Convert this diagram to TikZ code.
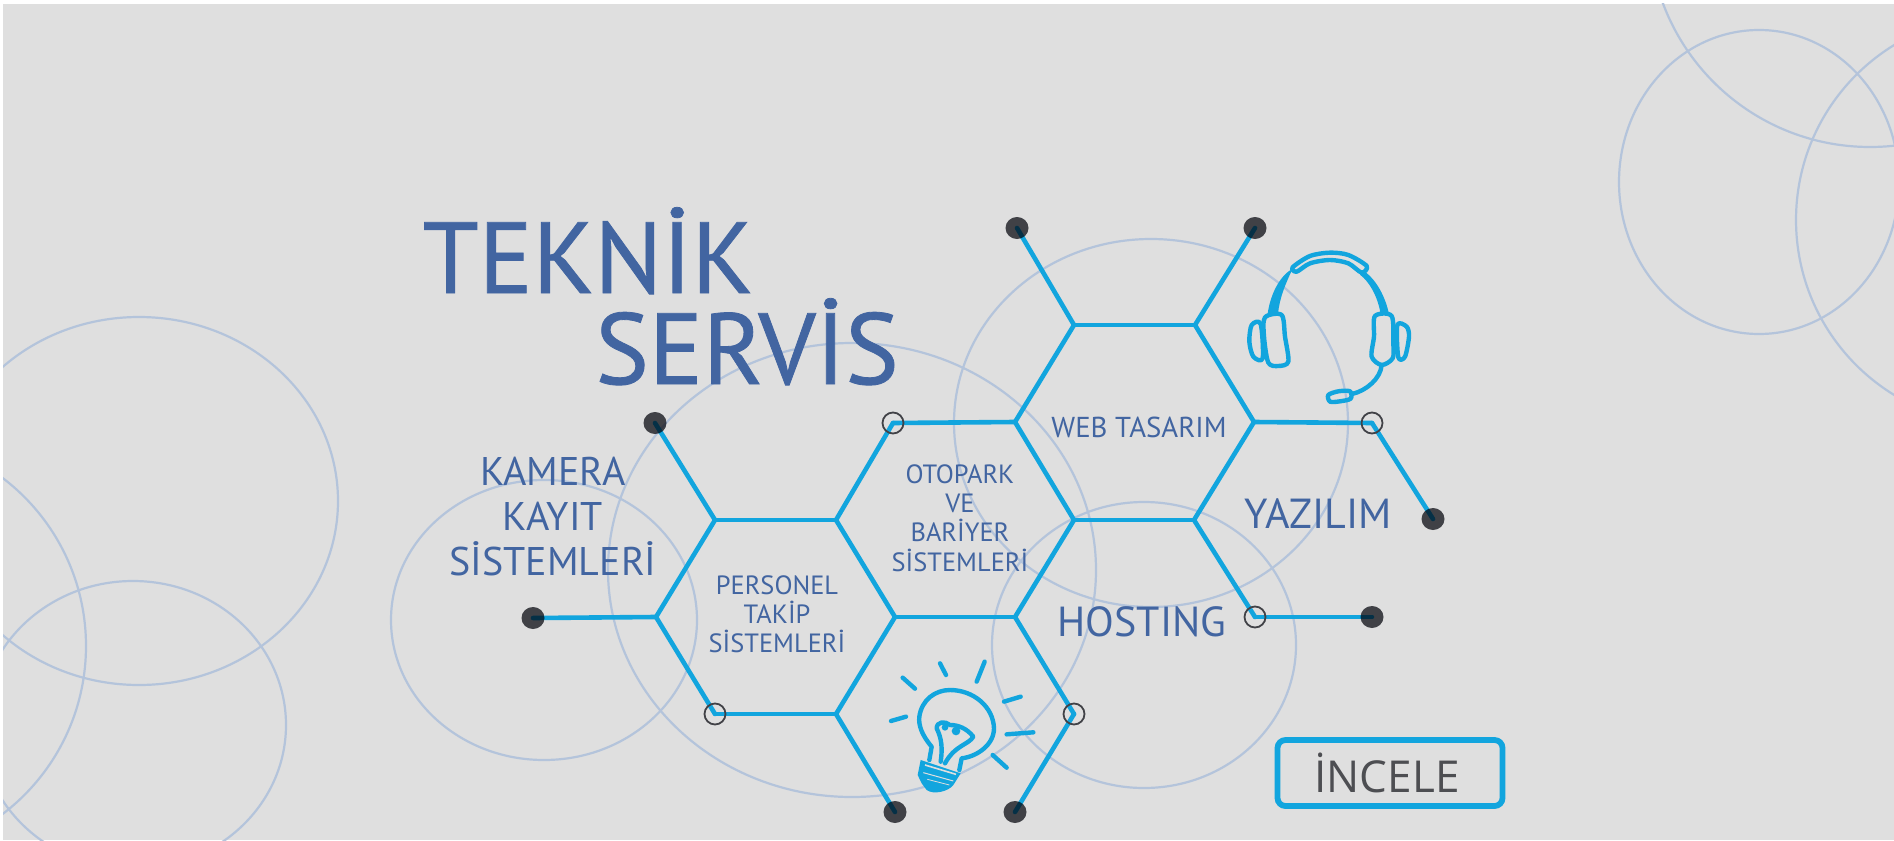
\documentclass[tikz,border=0pt]{standalone}
\usepackage{fontspec}
\usetikzlibrary{shapes.geometric}
\setmainfont{PT Sans}
\newfontfamily\titlefont[FakeBold=0.8]{PT Sans}
\newfontfamily\btnfont{Open Sans}
\definecolor{pagegrey}{HTML}{DFDFDF}
\definecolor{ringblue}{HTML}{B4C4DB}
\definecolor{linkblue}{HTML}{12A5DE}
\definecolor{titleblue}{HTML}{4265A1}
\definecolor{dotgrey}{HTML}{4A4B51}
\definecolor{opengrey}{HTML}{414247}
\definecolor{btngrey}{HTML}{4D4E52}
\pgfdeclarelayer{front}
\pgfsetlayers{main,front}

\begin{document}
\begin{tikzpicture}[x=0.5pt,y=-0.5pt,
    bubble/.style={draw=ringblue,line width=1.1pt},
    link/.style={draw=linkblue,line width=2.3pt,line cap=round},
    sketch/.style={draw=linkblue,line width=2.2pt,line cap=round,line join=round},
    solid dot/.style={ellipse,fill=dotgrey,blend mode=multiply,inner sep=0pt,minimum width=11.5pt,minimum height=11pt},
    open dot/.style={circle,draw=opengrey,line width=0.9pt,inner sep=0pt,minimum size=10.5pt},
    title/.style={inner sep=0pt,text=titleblue,anchor=base,font=\titlefont\fontsize{50.5}{50.5}\selectfont},
    big label/.style={inner sep=0pt,text=titleblue,align=center,font=\fontsize{21}{22.5}\selectfont},
    small label/.style={inner sep=0pt,text=titleblue,align=center,font=\fontsize{13.2}{14.6}\selectfont},
    button/.style={draw=linkblue,line width=2.9pt,rounded corners=4pt,minimum width=112.5pt,minimum height=33pt,inner sep=0pt,text=btngrey,font=\btnfont\fontsize{22}{22}\selectfont}]

  \useasboundingbox (0,0) rectangle (1894,840);
  \fill[pagegrey] (3,4) rectangle (1894,840);

  % background rings
  \draw[bubble] (852,570) ellipse [x radius=244,y radius=227];
  \draw[bubble] (1151,423) ellipse [x radius=197,y radius=184];
  \draw[bubble] (1144,645) ellipse [x radius=152,y radius=143];
  \draw[bubble] (544,620) ellipse [x radius=153,y radius=140];
  \begin{scope}
    \clip (3,4) rectangle (1894,840);
    \draw[bubble] (139,501) ellipse [x radius=199,y radius=184];
    \draw[bubble] (-125,646) circle [radius=211];
    \draw[bubble] (133,725) ellipse [x radius=153,y radius=144];
    \draw[bubble] (1759,182) ellipse [x radius=140,y radius=152];
    \draw[bubble] (2001,220) circle [radius=205];
    \draw[bubble] (1870,-74) circle [radius=221];
  \end{scope}

  % honeycomb corners
  \coordinate (a) at (715,520);
  \coordinate (b) at (836,520);
  \coordinate (c) at (656,617);
  \coordinate (d) at (895,617);
  \coordinate (e) at (836,714);
  \coordinate (f) at (1015,422);
  \coordinate (g) at (1074,325);
  \coordinate (h) at (1195,325);
  \coordinate (i) at (1254,422);
  \coordinate (j) at (1074,520);
  \coordinate (k) at (1194,520);
  \coordinate (l) at (1015,617);

  \begin{pgfonlayer}{front}
    \node[solid dot] (dotA) at (655,423) {};
    \node[solid dot] (dotB) at (533,618) {};
    \node[solid dot] (dotC) at (895,812) {};
    \node[solid dot] (dotD) at (1015,812) {};
    \node[solid dot] (dotE) at (1017,228) {};
    \node[solid dot] (dotF) at (1255,228) {};
    \node[solid dot] (dotG) at (1433,519) {};
    \node[solid dot] (dotH) at (1372,617) {};
    \node[open dot] (openA) at (893,423) {};
    \node[open dot] (openB) at (715,714) {};
    \node[open dot] (openC) at (1074,714) {};
    \node[open dot] (openD) at (1255,617) {};
    \node[open dot] (openE) at (1372,423) {};
  \end{pgfonlayer}

  \foreach \from/\to in {dotA/a,a/b,b/openA,openA/f,f/g,g/dotE,g/h,h/dotF,h/i,i/openE,
      openE/dotG,i/k,k/j,j/f,j/l,k/openD,openD/dotH,l/d,l/openC,openC/dotD,d/b,d/e,
      e/dotC,e/openB,openB/c,c/a,c/dotB}
    \draw[link] (\from.center) -- (\to.center);

  % texts
  \node[title] (teknik) at (588,293) {TEKNİK};
  \node[title] (servis) at (747,384) {SERVİS};
  \node[big label,font=\fontsize{20}{22.5}\selectfont] (kamera) at (553,517) {KAMERA\\KAYIT\\SİSTEMLERİ};
  \node[big label] (yazilim) at (1318,514) {YAZILIM};
  \node[big label] (hosting) at (1142,622) {HOSTING};
  \node[small label] (personel) at (777,614) {PERSONEL\\TAKİP\\SİSTEMLERİ};
  \node[small label] (otopark) at (960,518) {OTOPARK\\VE\\BARİYER\\SİSTEMLERİ};
  \node[small label,font=\fontsize{14.4}{14.6}\selectfont] (web) at (1139,427) {WEB TASARIM};
  \node[button] (incele) at (1390,773) {\hspace*{-3pt}İNCELE};

  % headset
  \begin{scope}[shift={(1220,230)},scale=0.3333]
    \draw[sketch] plot[smooth cycle] coordinates {(135,262) (185,255) (195,320) (205,395) (175,408) (145,398) (132,320)};
    \draw[sketch] plot[smooth cycle] coordinates {(95,285) (122,282) (128,385) (100,380) (88,335)};
    \draw[sketch] plot[smooth cycle] coordinates {(465,258) (515,258) (520,340) (518,385) (485,405) (455,380) (462,320)};
    \draw[sketch] plot[smooth cycle] coordinates {(532,285) (560,290) (567,320) (555,380) (535,382)};
    \draw[sketch] plot[smooth cycle] coordinates {(218,112) (270,78) (330,68) (385,75) (440,108) (425,128) (385,100) (330,90) (270,100) (230,125)};
    \fill[linkblue] (143,250) .. controls (153,185) and (183,135) .. (218,116) .. controls (197,160) and (178,205) .. (174,252) -- cycle;
    \fill[linkblue] (430,122) .. controls (472,150) and (497,205) .. (507,252) -- (482,252) .. controls (473,200) and (450,157) .. (420,134) -- cycle;
    \draw[sketch] (485,405) .. controls (482,445) and (440,482) .. (396,492);
    \draw[sketch] plot[smooth cycle] coordinates {(325,495) (355,484) (390,484) (392,506) (360,514) (330,515)};
  \end{scope}

  % lamp
  \begin{scope}[shift={(870,650)},scale=0.3333]
    \draw[sketch] (98,83) -- (135,116);
    \draw[sketch] (210,40) -- (228,75);
    \draw[sketch] (344,35) -- (320,95);
    \draw[sketch] (402,155) -- (452,140);
    \draw[sketch] (63,213) -- (108,200);
    \draw[sketch] (410,253) -- (490,247);
    \draw[sketch] (368,315) -- (410,353);
    \draw[sketch] (178,330) -- (185,290) .. controls (155,255) and (145,225) .. (148,200) .. controls (155,150) and (195,120) .. (240,120) .. controls (310,120) and (370,170) .. (372,235) .. controls (372,285) and (320,320) .. (275,325) -- (268,360);
    \draw[sketch] (212,335) .. controls (218,295) and (215,265) .. (200,235) .. controls (200,215) and (225,212) .. (240,225) .. controls (265,225) and (290,235) .. (310,260) .. controls (295,285) and (255,285) .. (225,340);
    \fill[linkblue] (258,243) circle [radius=13];
    \fill[linkblue] (225,232) circle [radius=10];
    \fill[linkblue] (152,330) -- (272,370) -- (250,405) .. controls (235,425) and (190,435) .. (170,420) -- (155,400) -- (143,375) -- cycle;
    \draw[pagegrey,line width=0.8pt] (165,345) -- (258,373);
    \draw[pagegrey,line width=0.5pt] (160,368) -- (250,393);
    \draw[pagegrey,line width=0.4pt] (172,388) -- (238,405);
  \end{scope}
\end{tikzpicture}
\end{document}
